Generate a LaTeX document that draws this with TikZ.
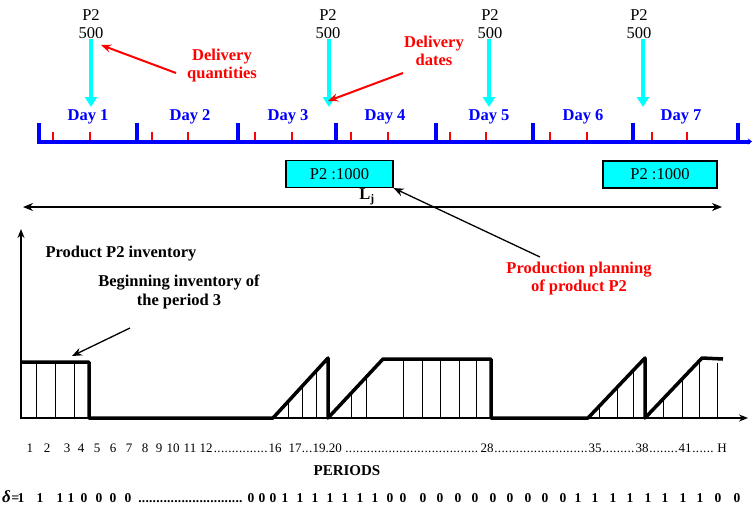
\documentclass[tikz,border=0pt]{standalone}
\usepackage{fontspec}
\setmainfont{Liberation Serif}
\usetikzlibrary{arrows.meta}
\definecolor{pblue}{RGB}{0,0,255}
\definecolor{pcyan}{RGB}{0,255,255}
\definecolor{pred}{RGB}{255,0,0}
\newcommand{\fsz}[1]{\fontsize{#1}{#1}\selectfont}
\newcommand{\dotrun}[1]{\makebox[#1pt]{\leaders\hbox to 3.6pt{\hss.\hss}\hfill}}
\begin{document}
\begin{tikzpicture}[x=1pt,y=-1pt,
  daylbl/.style={text=pblue,font=\fontsize{16.5}{18}\selectfont\bfseries,inner sep=0pt},
  qtylbl/.style={font=\fontsize{16.5}{18}\selectfont,align=center,inner sep=0pt},
  redlbl/.style={text=pred,font=\fontsize{16.5}{18.5}\selectfont\bfseries,align=center,inner sep=0pt},
  blklbl/.style={font=\fontsize{16.5}{19}\selectfont\bfseries,align=center,inner sep=0pt},
  prodbox/.style={draw=black,fill=pcyan,line width=1.2pt,font=\fontsize{16.5}{18}\selectfont,inner sep=0pt,minimum height=27pt},
  delivarrow/.style={pcyan,line width=4pt,-{Triangle[width=12pt,length=10pt]}},
  redarrow/.style={pred,line width=2pt,-{Stealth[length=10pt,width=8pt]}},
  thinarrow/.style={black,line width=1.3pt,-{Stealth[length=10pt,width=8pt]}},
  axisarrow/.style={black,line width=2pt,-{Stealth[length=9pt,width=7pt]}},
  majortick/.style={pblue,line width=4pt},
  minortick/.style={pred,line width=1.5pt},
  curve/.style={black,line width=3.5pt,line join=round},
  hatch/.style={black,line width=0.9pt},
  pnum/.style={font=\fsz{13},inner sep=0pt,anchor=base},
  pdots/.style={font=\fsz{13},inner sep=0pt,anchor=base west},
  dnum/.style={font=\fsz{13.5}\bfseries,inner sep=0pt,anchor=base}
]
\useasboundingbox (0,0) rectangle (753,512);

% ---------------- timeline ----------------
\coordinate (tla) at (37,141.5);
\coordinate (tlb) at (752,141.5);
\draw[pblue,line width=4pt,-{Stealth[length=4pt,width=6pt]}] (tla) -- (tlb);
\foreach \x in {39,137,238,336,436,533,633,738}
  \draw[majortick] (\x,123) -- (\x,141);
\foreach \x in {53,90,152,188,255,292,351,388,450,486,550,587,652,687}
  \draw[minortick] (\x,132) -- (\x,140);

\foreach \x/\d [count=\i] in {88/1,190/2,288/3,385/4,489/5,583/6,681/7}
  \node[daylbl] (day\i) at (\x,117) {Day \d};

% ---------------- delivery quantities ----------------
\foreach \x/\ax [count=\i] in {91/91,328/329,490/489,639/643}{
  \node[qtylbl] (q\i) at (\x,24.5) {P2\\500};
  \coordinate (t\i) at (\ax,107);
  \draw[delivarrow] (q\i.south -| t\i) -- (t\i);
}

\node[redlbl] (dq) at (222,65.5) {Delivery\\quantities};
\coordinate (dqs) at (176,73);
\coordinate (dqe) at (101,45);
\draw[redarrow] (dqs) -- (dqe);

\node[redlbl] (dd) at (434,51) {Delivery\\dates};
\coordinate (dds) at (403,73);
\coordinate (dde) at (328,101);
\draw[redarrow] (dds) -- (dde);

% ---------------- production boxes ----------------
\node[prodbox,minimum width=107pt] (b1) at (339.5,174) {P2 :1000};
\node[prodbox,minimum width=114pt] (b2) at (660,174.5) {P2 :1000};

\coordinate (lja) at (23,207);
\coordinate (ljb) at (722,207);
\draw[black,line width=2pt,{Stealth[length=10pt,width=8pt]}-{Stealth[length=10pt,width=8pt]}] (lja) -- (ljb);
\node[font=\fsz{16.5}\bfseries,inner sep=0pt] (lj) at (367,197) {L\textsubscript{j}};

\node[redlbl] (pp) at (579,278.5) {Production planning\\of product P2};
\coordinate (pps) at (540,257);
\draw[thinarrow] (pps) -- (b1.south east);

% ---------------- inventory graph ----------------
\coordinate (org) at (21,418);
\coordinate (ytop) at (21,229);
\coordinate (xsta) at (20,418);
\coordinate (xend) at (748,418);
\draw[axisarrow] (org) -- (ytop);
\draw[axisarrow] (xsta) -- (xend);

\node[blklbl] (pinv) at (121,254) {Product P2 inventory};
\node[blklbl] (binv) at (179,291.5) {Beginning inventory of\\the period 3};
\coordinate (bis) at (130,328);
\coordinate (bie) at (72,356);
\draw[thinarrow] (bis) -- (bie);

% hatching
\foreach \x in {36,55,74} \draw[hatch] (\x,362) -- (\x,418);
\foreach \x in {288,302,316} \draw[hatch] (\x,{418-(\x-273)*60/55}) -- (\x,418);
\foreach \x in {351,366} \draw[hatch] (\x,{418-(\x-328)*59/55}) -- (\x,418);
\foreach \x in {403,422,440,459,476} \draw[hatch] (\x,359) -- (\x,418);
\foreach \x in {599,617,633} \draw[hatch] (\x,{418-(\x-588)*60/57}) -- (\x,418);
\foreach \x in {663,682,699} \draw[hatch] (\x,{418-(\x-645)*60/57}) -- (\x,418);
\draw[hatch] (717,363) -- (717,418);

\draw[curve] (20,362) -- (89,362) -- (89,418) -- (273,418) -- (328,358) -- (328,418)
  -- (383,359) -- (491,359) -- (491,418) -- (588,418) -- (645,358) -- (645,418)
  -- (702,358) -- (723,359);

% ---------------- periods ----------------
\foreach \x/\t [count=\i] in {30/1,47/2,67/3,81/4,97/5,113/6,129/7,145/8,159/9,173/10,190/11,206/12,
   275/16,487/28,595/35,642/38,685/41,722/H}
  \node[pnum] (pn\i) at (\x,452.5) {\t};
\node[pdots] (pmid) at (288.5,452.5) {17\dotrun{11}19.20};
\foreach \a/\w [count=\i] in {213.5/55,345/135,494/94,602/33,649/30,692/24}
  \node[pdots] (pd\i) at (\a,452.5) {\dotrun{\w}};

\node[font=\fsz{15}\bfseries,inner sep=0pt] (per) at (347,471) {PERIODS};

% ---------------- delta row ----------------
\node[font=\fsz{17}\bfseries\itshape,inner sep=0pt,anchor=base west] (dl) at (2,502) {δ};
\node[font=\fsz{14}\bfseries,inner sep=0pt,anchor=base west] (deq) at (dl.base east) {=};
\foreach \x/\t [count=\i] in {21/1,40/1,60/1,71/1,84/0,99/0,113/0,128/0,
   251/0,262/0,273/0,285/1,300/1,315/1,330/1,345/1,360/1,375/1,390/0,403/0,
   423/0,440/0,458/0,475/0,493/0,510/0,528/0,545/0,563/0,
   578/1,595/1,613/1,630/1,648/1,665/1,683/1,700/1,718/0,737/0}
  \node[dnum] (dn\i) at (\x,502) {\t};
\node[font=\fsz{13.5}\bfseries,inner sep=0pt,anchor=base west] (ddots) at (138,502) {\dotrun{108}};
\end{tikzpicture}
\end{document}
